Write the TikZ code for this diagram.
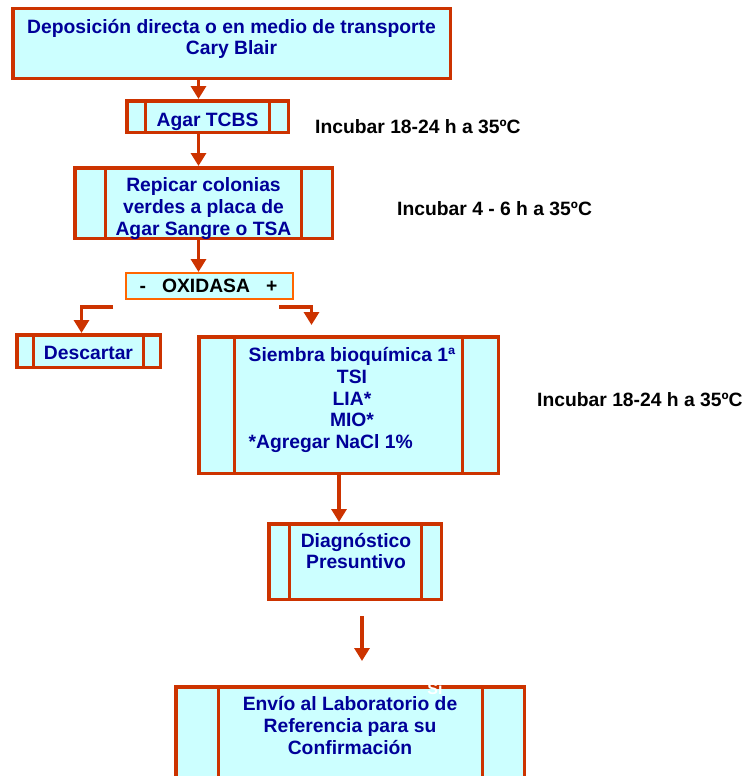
\documentclass[tikz,border=0pt]{standalone}
\usepackage{fontspec}
\setmainfont{Liberation Sans}
\usetikzlibrary{arrows.meta,positioning,calc}
\definecolor{borde}{HTML}{CC3300}
\definecolor{bordeox}{HTML}{FF6600}
\definecolor{relleno}{HTML}{CCFFFF}
\definecolor{azul}{HTML}{000099}
\newcommand{\st}{\rule{0pt}{16pt}}
\newlength{\siemw}

\begin{document}
\begin{tikzpicture}[x=1pt,y=-1pt,
		caja/.style={rectangle,draw=borde,fill=relleno,line width=3.5pt,inner sep=0pt},
		txt/.style={inner sep=0pt,outer sep=0pt,align=center,text=azul,font=\fontsize{19.3}{21.7}\selectfont\bfseries},
		nota/.style={inner sep=0pt,anchor=base west,font=\fontsize{19.3}{21.7}\selectfont\bfseries},
		flecha/.style={draw=borde,line width=3.2pt,-{Triangle[width=15pt,length=13pt]}}]
		\path[use as bounding box] (0,0) rectangle (747,776);
		\clip (0,0) rectangle (747,776);

		\node[caja,minimum width=437.5pt,minimum height=69.5pt] (dep) at (231.5,43.5) {};
		\node[caja,minimum width=161.5pt,minimum height=31.5pt] (tcbs) at (207.5,116.5) {};
		\node[caja,minimum width=257.5pt,minimum height=70.5pt] (rep) at (203.5,203) {};
		\node[caja,draw=bordeox,line width=2pt,minimum width=167pt,minimum height=26pt] (oxi) at (209.5,286) {};
		\node[caja,minimum width=143.5pt,minimum height=32.5pt] (desc) at (88.5,351) {};
		\node[caja,minimum width=299.5pt,minimum height=136.5pt] (siem) at (348.5,405) {};
		\node[caja,minimum width=172.5pt,minimum height=75.5pt] (diag) at (355,561.5) {};
		\node[caja,minimum width=348.5pt,minimum height=120pt] (env) at (350,747) {};

		% lineas interiores
		\foreach \n in {tcbs,rep,desc,siem,diag,env}{
			\draw[borde,line width=3pt] ($(\n.north west)!.125!(\n.north east)$) -- ($(\n.south west)!.125!(\n.south east)$);
			\draw[borde,line width=3pt] ($(\n.north east)!.125!(\n.north west)$) -- ($(\n.south east)!.125!(\n.south west)$);
		}

		\node[txt,below=10.3pt of dep.north] (dept) {\st Deposición directa o en medio de transporte\\Cary Blair};
		\node[txt,below=11pt of tcbs.north] (tcbst) {\st Agar TCBS};
		\node[txt,below=9.7pt of rep.north] (rept) {\st Repicar colonias\\verdes a placa de\\Agar Sangre o TSA};
		\node[txt,text=black,below=4pt of oxi.north,xshift=-1pt] (oxit) {\st -~~~OXIDASA~~~+};
		\node[txt,below=10pt of desc.north] (desct) {\st Descartar};
		\node[txt,below=10.7pt of siem.north,xshift=3.5pt] (siemt) {\settowidth{\siemw}{Siembra bioquímica 1ª}\global\siemw=\siemw\st Siembra bioquímica 1ª\\TSI\\LIA*\\MIO*\\\makebox[\siemw][l]{*Agregar NaCl 1\%}};
		\node[txt,below=9pt of diag.north,xshift=1pt] (diagt) {\st Diagnóstico\\Presuntivo};
		\node[txt,below=9.5pt of env.north] (envt) {\st Envío al Laboratorio de\\Referencia para su\\Confirmación};
		\node[inner sep=0pt,anchor=base,text=white,font=\fontsize{16}{16}\selectfont\bfseries] (si) at (435,694) {Sí};

		\node[nota] (inc1) at (315,133.3) {Incubar 18-24 h a 35ºC};
		\node[nota] (inc2) at (397,215) {Incubar 4 - 6 h a 35ºC};
		\node[nota] (inc3) at (537,406) {Incubar 18-24 h a 35ºC};

		\coordinate (c1) at (198.5,0);
		\coordinate (c2) at (81.5,0);
		\coordinate (c3) at (339,0);
		\coordinate (ox1) at (113,307);
		\coordinate (ox2) at (279,307);
		\coordinate (ox3) at (311.5,325);
		\coordinate (f1) at (362,616);
		\coordinate (f2) at (362,661);

		\draw[flecha] (dep.south -| c1) -- (tcbs.north -| c1);
		\draw[flecha] (tcbs.south -| c1) -- (rep.north -| c1);
		\draw[flecha] (rep.south -| c1) -- (oxi.north -| c1);
		\draw[flecha] (ox1) -| (desc.north -| c2);
		\draw[flecha] (ox2) -| (ox3);
		\draw[flecha] (siem.south -| c3) -- (diag.north -| c3);
		\draw[flecha] (f1) -- (f2);
	\end{tikzpicture}
\end{document}
